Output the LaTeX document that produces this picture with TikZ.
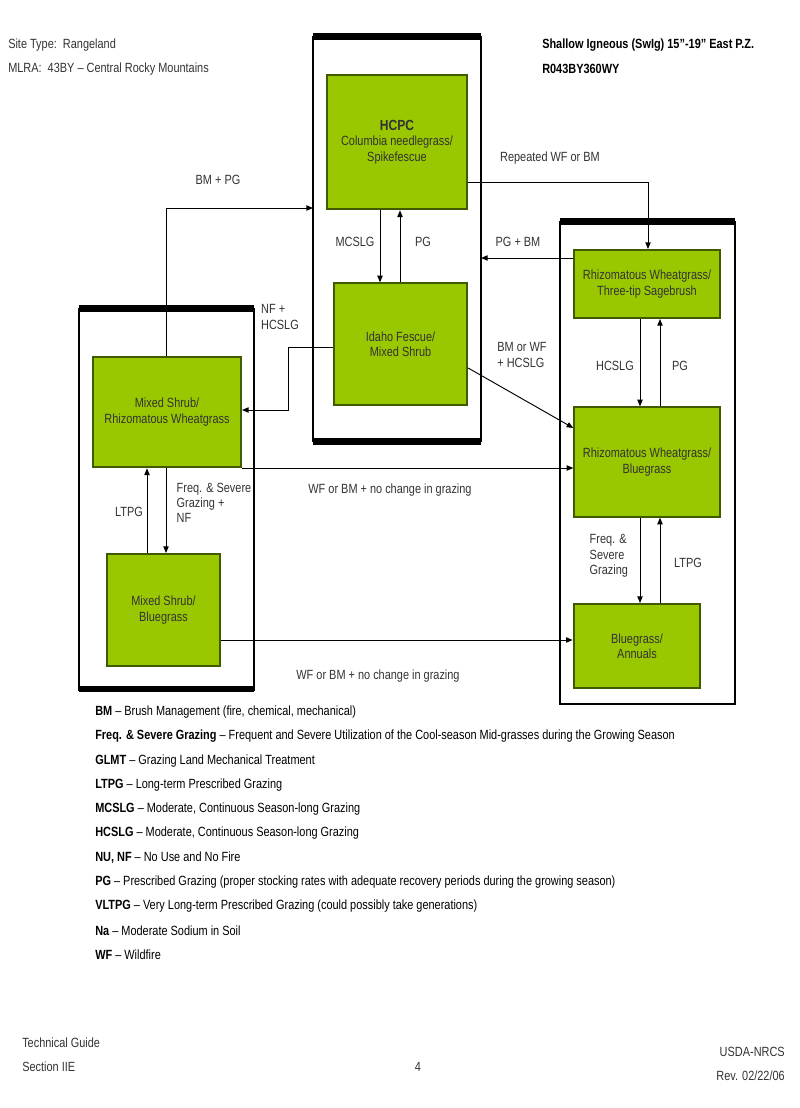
\documentclass[tikz,border=0pt]{standalone}
\usepackage{fontspec}
\setmainfont[FakeStretch=0.82]{Liberation Sans}
\usetikzlibrary{arrows.meta}
\definecolor{gr}{HTML}{99C800}
\definecolor{grb}{HTML}{3F5A00}
\definecolor{tx}{HTML}{333333}
\tikzset{
 st/.style={fill=gr,draw=grb,line width=1.5pt},
 frm/.style={draw=black,line width=2.2pt},
 ar/.style={-{Triangle[length=5pt,width=4pt]},line width=0.7pt},
 lb/.style={font=\fontsize{10}{11.5}\selectfont,text=tx,align=center},
 bt/.style={font=\fontsize{10}{11.5}\selectfont,text=tx,align=center},
 lg/.style={font=\fontsize{10}{11}\selectfont,anchor=west,inner sep=0pt}
}
\begin{document}
\begin{tikzpicture}[x=0.75pt,y=-0.75pt]
\useasboundingbox (0,0) rectangle (800,1108);
% frames
\draw[frm] (313,37) rectangle (481,441);
\fill (313,33) rectangle (481,40); \fill (313,438) rectangle (481,445);
\draw[frm] (79,309) rectangle (254,690);
\fill (79,305) rectangle (254,312); \fill (79,686) rectangle (254,692);
\draw[frm] (560,222) rectangle (735,704);
\fill (560,218) rectangle (735,225);
% states
\node[st,minimum width=105pt,minimum height=101pt,bt] (hcpc) at (397,142) {\textbf{\fontsize{11}{13}\selectfont HCPC}\\Columbia needlegrass/\\Spikefescue};
\node[st,minimum width=100pt,minimum height=91pt,bt] (idaho) at (400.5,344) {Idaho Fescue/\\Mixed Shrub};
\node[st,minimum width=111pt,minimum height=83pt,bt] (msrw) at (167,412) {Mixed Shrub/\\Rhizomatous Wheatgrass};
\node[st,minimum width=85pt,minimum height=84pt,bt] (msbg) at (163.5,610) {Mixed Shrub/\\Bluegrass};
\node[st,minimum width=109pt,minimum height=51pt,bt] (rwts) at (647,284) {Rhizomatous Wheatgrass/\\Three-tip Sagebrush};
\node[st,minimum width=109pt,minimum height=82pt,bt] (rwbg) at (647,462) {Rhizomatous Wheatgrass/\\Bluegrass};
\node[st,minimum width=95pt,minimum height=63pt,bt] (bgan) at (637,646) {Bluegrass/\\Annuals};
% connectors
\coordinate (c1) at (166,208);
\draw[ar] (msrw.north -| c1) -- (c1) -- (313,208);
\node[lb] at (218,180) {BM + PG};
\coordinate (c2) at (648,182);
\draw[ar] (hcpc.east |- c2) -- (c2) -- (rwts.north -| c2);
\node[lb] at (550,158) {Repeated WF or BM};
\draw[ar] (hcpc.south -| 380,0) -- (idaho.north -| 380,0);
\draw[ar] (idaho.north -| 400,0) -- (hcpc.south -| 400,0);
\node[lb] at (355,242) {MCSLG};
\node[lb] at (423,242) {PG};
\draw[ar] (rwts.west |- 0,258) -- (481,258);
\node[lb] at (518,242) {PG + BM};
\draw[ar] (idaho.west |- 0,347) -- (288,347) -- (288,410) -- (msrw.east |- 0,410);
\node[lb,align=left] at (280,317) {NF +\\HCSLG};
\draw[ar] (idaho.east |- 0,368) -- (rwbg.west |- 0,428);
\node[lb,align=left] at (522,355) {BM or WF\\+ HCSLG};
\draw[ar] (rwts.south -| 640,0) -- (rwbg.north -| 640,0);
\draw[ar] (rwbg.north -| 660,0) -- (rwts.south -| 660,0);
\node[lb] at (615,366) {HCSLG};
\node[lb] at (680,366) {PG};
\draw[ar] (msrw.east |- 0,468) -- (rwbg.west |- 0,468);
\node[lb] at (390,490) {WF or BM + no change in grazing};
\draw[ar] (msbg.north -| 147,0) -- (msrw.south -| 147,0);
\draw[ar] (msrw.south -| 166,0) -- (msbg.north -| 166,0);
\node[lb] at (129,512) {LTPG};
\node[lb,align=left,anchor=north west] at (172,478) {Freq. \& Severe\\Grazing +\\NF};
\draw[ar] (msbg.east |- 0,640) -- (bgan.west |- 0,640);
\node[lb] at (378,676) {WF or BM + no change in grazing};
\draw[ar] (rwbg.south -| 640,0) -- (bgan.north -| 640,0);
\draw[ar] (bgan.north -| 660,0) -- (rwbg.south -| 660,0);
\node[lb,align=left,anchor=north west] at (585,530) {Freq. \&\\Severe\\Grazing};
\node[lb] at (688,563) {LTPG};
% headers
\node[lg,text=tx] (h1) at (8,45) {Site Type:\ \ Rangeland};
\node[lg,text=tx] (h2) at (8,69) {MLRA:\ \ 43BY -- Central Rocky Mountains};
\node[lg,font=\bfseries\fontsize{10}{11}\selectfont] (h3) at (542,45) {Shallow Igneous (SwIg) 15''-19'' East P.Z.};
\node[lg,font=\bfseries\fontsize{10}{11}\selectfont] (h4) at (542,69) {R043BY360WY};
% legend
\foreach \t [count=\i] in {
{\textbf{BM} -- Brush Management (fire, chemical, mechanical)},
{\textbf{Freq. \& Severe Grazing} -- Frequent and Severe Utilization of the Cool-season Mid-grasses during the Growing Season},
{\textbf{GLMT} -- Grazing Land Mechanical Treatment},
{\textbf{LTPG} -- Long-term Prescribed Grazing},
{\textbf{MCSLG} -- Moderate, Continuous Season-long Grazing},
{\textbf{HCSLG} -- Moderate, Continuous Season-long Grazing},
{\textbf{NU, NF} -- No Use and No Fire},
{\textbf{PG} -- Prescribed Grazing (proper stocking rates with adequate recovery periods during the growing season)},
{\textbf{VLTPG} -- Very Long-term Prescribed Grazing (could possibly take generations)},
{\textbf{Na} -- Moderate Sodium in Soil},
{\textbf{WF} -- Wildfire}}
{\node[lg] (l\i) at (95,{712+(\i-1)*24.3}) {\t};}
% footer
\node[lg,text=tx] (f1) at (22,1043) {Technical Guide};
\node[lg,text=tx] (f2) at (22,1067) {Section IIE};
\node[lb] (f3) at (418,1067) {4};
\node[lg,anchor=east,text=tx] (f4) at (785,1052) {USDA-NRCS};
\node[lg,anchor=east,text=tx] (f5) at (785,1076) {Rev. 02/22/06};
\end{tikzpicture}
\end{document}
